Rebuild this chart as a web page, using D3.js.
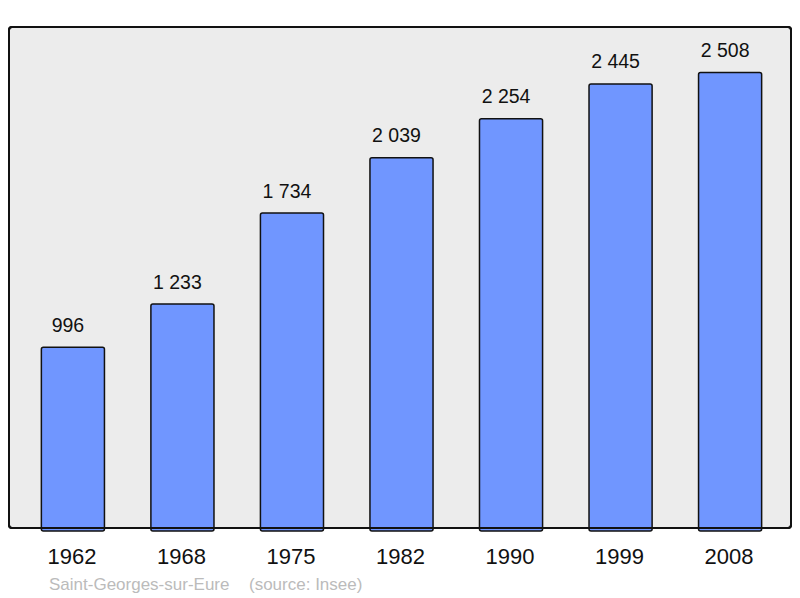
<!DOCTYPE html>
<html>
<head>
<meta charset="utf-8">
<script src="https://cdn.jsdelivr.net/npm/d3@7"></script>
<style>
  body { margin: 0; background: #fff; }
  svg { display: block; font-family: "Liberation Sans", Arial, sans-serif; }
</style>
</head>
<body>
<svg id="chart" width="800" height="598"></svg>
<script>
let years = ["1962", "1968", "1975", "1982", "1990", "1999", "2008"]
let population = [996, 1233, 1734, 2039, 2254, 2445, 2508]
let townName = "Saint-Georges-sur-Eure"
let sourceText = "(source: Insee)"

let svg = d3.select("#chart")

let frame = { left: 9, top: 27, right: 791, bottom: 528 }

svg.append("rect")
    .attr("x", frame.left)
    .attr("y", frame.top)
    .attr("width", frame.right - frame.left)
    .attr("height", frame.bottom - frame.top)
    .attr("rx", 3)
    .attr("fill", "#ececec")
    .attr("stroke", "#111")
    .attr("stroke-width", 2)

let x = d3.scaleBand()
    .domain(years)
    .range([8.5, 794.5])
    .paddingInner(0.424)
    .paddingOuter(0.3)

let y = d3.scaleLinear()
    .domain([0, d3.max(population) * 1.1])
    .range([frame.bottom, frame.top])

let fmt = v => d3.format(",")(v).replace(",", " ")

let bars = svg.selectAll("g.bar")
    .data(years.map((yr, i) => ({ year: yr, value: population[i] })))
    .enter().append("g")
    .attr("class", "bar")

bars.append("rect")
    .attr("x", d => x(d.year))
    .attr("y", d => y(d.value))
    .attr("width", x.bandwidth())
    .attr("height", d => frame.bottom - y(d.value) + 3)
    .attr("rx", 2)
    .attr("fill", "#7096ff")
    .attr("stroke", "#111")
    .attr("stroke-width", 1.5)

// value labels sit a little left of the bar centre in the original
bars.append("text")
    .attr("x", d => x(d.year) + x.bandwidth() / 2 - 5)
    .attr("y", d => y(d.value) - 15.5)
    .attr("text-anchor", "middle")
    .attr("font-size", 19.5)
    .attr("fill", "#111")
    .text(d => fmt(d.value))

bars.append("text")
    .attr("x", d => x(d.year) + x.bandwidth() / 2 - 1)
    .attr("y", 564)
    .attr("text-anchor", "middle")
    .attr("font-size", 22)
    .attr("fill", "#111")
    .text(d => d.year)

// redraw frame outline on top so bars sit inside it
svg.append("rect")
    .attr("x", frame.left)
    .attr("y", frame.top)
    .attr("width", frame.right - frame.left)
    .attr("height", frame.bottom - frame.top)
    .attr("rx", 3)
    .attr("fill", "none")
    .attr("stroke", "#111")
    .attr("stroke-width", 2)

svg.append("text")
    .attr("x", 49)
    .attr("y", 590)
    .attr("font-size", 17)
    .attr("fill", "#bbb")
    .text(townName)

svg.append("text")
    .attr("x", 249)
    .attr("y", 590)
    .attr("font-size", 17)
    .attr("fill", "#bbb")
    .text(sourceText)
</script>
</body>
</html>
